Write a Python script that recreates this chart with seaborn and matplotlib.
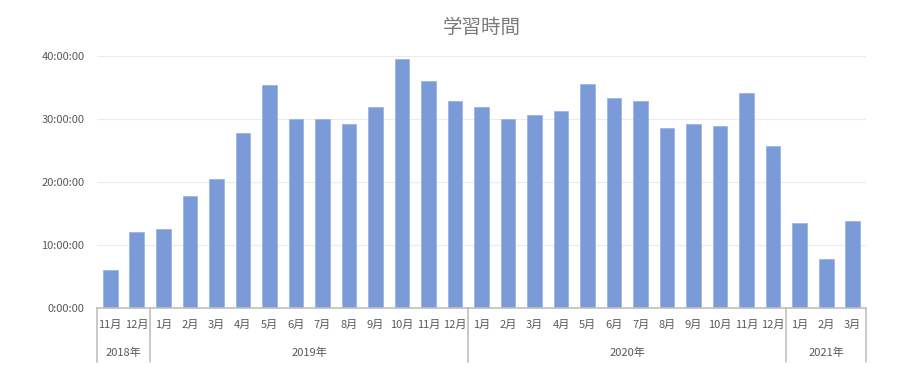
import numpy as np
import pandas as pd
import seaborn as sns
import matplotlib.pyplot as plt
import matplotlib.transforms as mtransforms
from matplotlib.ticker import FuncFormatter, MultipleLocator

# data (hours of study per month)
months = ['11月', '12月',
          '1月', '2月', '3月', '4月', '5月', '6月', '7月', '8月', '9月', '10月', '11月', '12月',
          '1月', '2月', '3月', '4月', '5月', '6月', '7月', '8月', '9月', '10月', '11月', '12月',
          '1月', '2月', '3月']
years = ['2018年', '2019年', '2020年', '2021年']
months_per_year = [2, 12, 12, 3]
hours = [6.1, 12.1,
         12.5, 17.8, 20.5, 27.8, 35.5, 30.1, 30.0, 29.2, 32.0, 39.6, 36.0, 32.9,
         32.0, 30.1, 30.6, 31.3, 35.6, 33.4, 32.9, 28.6, 29.2, 28.9, 34.1, 25.7,
         13.5, 7.8, 13.8]

df = pd.DataFrame({'idx': range(len(hours)), 'hours': hours})

sns.set_theme(style='white')
plt.rcParams['font.family'] = ['Noto Sans CJK JP', 'DejaVu Sans']

grey = '#595959'
line_grey = '#bfbfbf'

fig = plt.figure(figsize=(9.16, 3.77), dpi=100)
ax = fig.add_axes([0.1059, 0.183, 0.8395, 0.668])

sns.barplot(data=df, x='idx', y='hours', color='#7a9bd8', saturation=1,
            width=0.55, edgecolor='#9db5e3', linewidth=0.6, ax=ax)

ax.set_ylim(0, 40)
ax.set_xlim(-0.5, len(hours) - 0.5)
ax.yaxis.set_major_locator(MultipleLocator(10))
ax.yaxis.set_major_formatter(FuncFormatter(lambda v, p: f'{int(v)}:00:00'))
ax.grid(axis='y', color='#ececec', linewidth=0.8)
ax.set_axisbelow(True)
ax.tick_params(axis='y', labelsize=8, colors=grey, length=0, pad=9)
ax.set_xticks([])
ax.set_xlabel('')
ax.set_ylabel('')
for s in ['top', 'right', 'left']:
    ax.spines[s].set_visible(False)
ax.spines['bottom'].set_color(line_grey)
ax.spines['bottom'].set_linewidth(1.2)

ax.set_title('学習時間', fontsize=14, color='#7a7a7a', pad=17)

# two-level category axis
trans = mtransforms.blended_transform_factory(ax.transData, ax.transAxes)
for i, m in enumerate(months):
    ax.text(i, -0.067, m, transform=trans, ha='center', va='center',
            fontsize=8, color=grey)

bounds = np.concatenate([[0], np.cumsum(months_per_year)]) - 0.5
for b in bounds:
    ax.plot([b, b], [0, -0.214], transform=trans, color=line_grey,
            linewidth=1.2, clip_on=False)
for k, y in enumerate(years):
    mid = (bounds[k] + bounds[k + 1]) / 2
    ax.text(mid, -0.179, y, transform=trans, ha='center', va='center',
            fontsize=8, color=grey)

fig.savefig('out.png', dpi=100)
